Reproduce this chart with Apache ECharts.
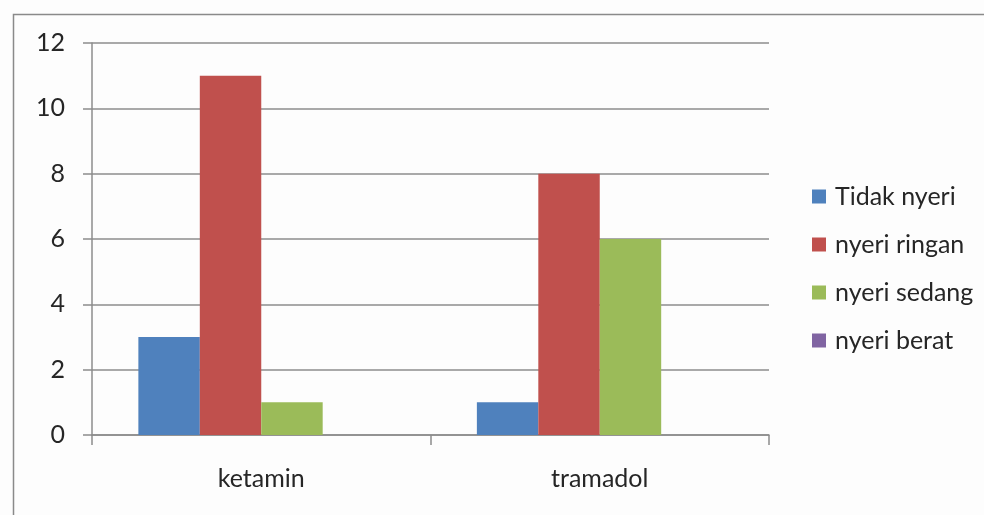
<!DOCTYPE html>
<html>
<head>
<meta charset="utf-8">
<script src="https://cdn.jsdelivr.net/npm/echarts@6/dist/echarts.min.js"></script>
<style>
  html, body { margin: 0; padding: 0; background: #fdfdfd; }
  #chart { width: 984px; height: 515px; }
</style>
</head>
<body>
<div id="chart"></div>
<script>
// Pain level counts per anaesthetic group
const categories = ['ketamin', 'tramadol'];
const seriesNames = ['Tidak nyeri', 'nyeri ringan', 'nyeri sedang', 'nyeri berat'];
const tidakNyeri = [3, 1];
const nyeriRingan = [11, 8];
const nyeriSedang = [1, 6];
const nyeriBerat = [0, 0];
const yTicks = [0, 2, 4, 6, 8, 10, 12];

const colors = ['#4f81bd', '#c0504d', '#9bbb59', '#8064a2'];
const values = [tidakNyeri, nyeriRingan, nyeriSedang, nyeriBerat];
const font = 'Lato, "Open Sans", sans-serif';

const chart = echarts.init(document.getElementById('chart'), null, { renderer: 'canvas' });

chart.setOption({
  backgroundColor: '#fdfdfd',
  animation: false,
  color: colors,
  graphic: [{
    type: 'rect',
    left: 11, top: 12,
    shape: { width: 1100, height: 700 },
    style: { fill: 'none', stroke: '#8a8a8a', lineWidth: 1.5 },
    silent: true
  }],
  grid: { left: 92, right: 215, top: 43, bottom: 80, containLabel: false },
  legend: {
    orient: 'vertical',
    left: 812, top: 184,
    padding: 0,
    itemWidth: 14, itemHeight: 14, itemGap: 23,
    icon: 'rect',
    data: seriesNames,
    textStyle: { fontFamily: font, fontSize: 25, color: '#262626', padding: [0, 0, 0, 4] }
  },
  xAxis: {
    type: 'category',
    data: categories,
    axisLine: { lineStyle: { color: '#8c8c8c', width: 1.5 } },
    axisTick: { show: true, length: 10, interval: 0, lineStyle: { color: '#8c8c8c', width: 1.5 } },
    axisLabel: { fontFamily: font, fontSize: 25, color: '#262626', margin: 31 },
    splitLine: { show: false }
  },
  yAxis: {
    type: 'value',
    min: yTicks[0], max: yTicks[yTicks.length - 1], interval: yTicks[1] - yTicks[0],
    axisLine: { show: true, lineStyle: { color: '#8c8c8c', width: 1.5 } },
    axisTick: { show: true, length: 9, lineStyle: { color: '#8c8c8c', width: 1.5 } },
    axisLabel: { fontFamily: font, fontSize: 25, color: '#262626', margin: 27 },
    splitLine: { show: true, lineStyle: { color: '#8c8c8c', width: 1.5 } }
  },
  series: seriesNames.map((name, i) => ({
    name,
    type: 'bar',
    data: values[i],
    barGap: '0%',
    barCategoryGap: '27.4%',
    itemStyle: { color: colors[i] }
  }))
});
</script>
</body>
</html>
